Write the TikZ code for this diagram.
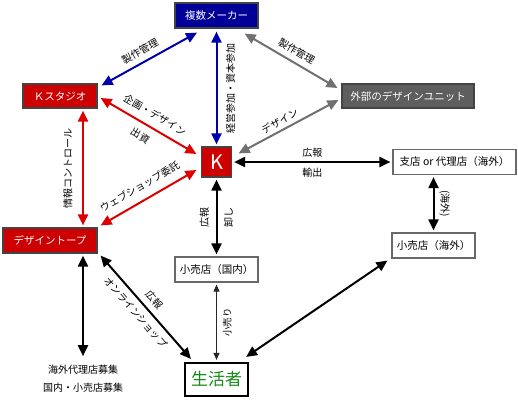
\documentclass[tikz,border=0pt]{standalone}
\usepackage{fontspec}
\setmainfont{Noto Sans CJK JP}
\usepackage{tikz}
\usetikzlibrary{arrows.meta}
\definecolor{navy}{HTML}{000099}
\definecolor{crimson}{HTML}{CC0000}
\definecolor{arrowred}{HTML}{DD0000}
\definecolor{arrowblue}{HTML}{0000AA}
\definecolor{unitgray}{HTML}{5E5E5E}
\definecolor{arrowgray}{HTML}{707070}
\definecolor{edgegray}{HTML}{444444}
\definecolor{leafgreen}{HTML}{168A16}
\tikzset{
  box/.style={
    rectangle, inner sep=0pt,
    minimum height=25pt,
    text centered, draw=edgegray, line width=1.2pt,
    font=\fontsize{10.5pt}{12pt}\selectfont,
  },
  makerbox/.style={box, fill=navy, text=white},
  redbox/.style={box, fill=crimson, text=white},
  unitbox/.style={box, fill=unitgray, text=white},
  shopbox/.style={box, fill=white, draw=edgegray!80},
  consumerbox/.style={
    box, draw=black, line width=2.2pt, fill=white,
    text=leafgreen, font=\fontsize{17pt}{18pt}\selectfont,
  },
  lbl/.style={inner sep=0.5pt, text=black, font=\fontsize{10pt}{11pt}\selectfont},
  bluearrow/.style={<->, >={Triangle[length=11pt,width=10pt]}, line width=2pt, color=arrowblue},
  redarrow/.style={<->, >={Triangle[length=11pt,width=10pt]}, line width=2pt, color=arrowred},
  grayarrow/.style={<->, >={Triangle[length=11pt,width=10pt]}, line width=2pt, color=arrowgray},
  blackarrow/.style={<->, >={Triangle[length=11pt,width=10pt]}, line width=2pt, color=black},
  thinarrow/.style={<->, >={Triangle[length=7pt,width=6pt]}, line width=1pt, color=black!85},
}

\begin{document}
\begin{tikzpicture}[x=1pt, y=-1pt]
  \useasboundingbox (0,0) rectangle (518,410);

  \node[makerbox, minimum width=83pt] (maker) at (216.5,15.5) {複数メーカー};
  \node[redbox, minimum width=74pt, minimum height=24pt] (kstudio) at (60,96) {Ｋスタジオ};
  \node[unitbox, minimum width=132pt, minimum height=24pt] (extunit) at (408,96) {外部のデザインユニット};
  \node[redbox, minimum width=30pt, minimum height=30pt, font=\fontsize{20pt}{22pt}\selectfont] (kcore) at (216.5,162) {K};
  \node[shopbox, minimum width=123pt] (branch) at (454.5,162) {支店 or 代理店（海外）};
  \node[shopbox, minimum width=83pt] (retailov) at (433.5,245.5) {小売店（海外）};
  \node[redbox, minimum width=94pt] (topu) at (50,240.5) {デザイントープ};
  \node[shopbox, minimum width=83pt] (retaildom) at (216.5,269.5) {小売店（国内）};
  \node[consumerbox, minimum width=63pt, minimum height=33pt] (consumer) at (216.5,379.5) {生活者};
  \node[align=center, inner sep=2pt, font=\fontsize{10pt}{18pt}\selectfont] (recruit) at (83,379) {海外代理店募集\\国内・小売店募集};

  \draw[bluearrow] ([xshift=-19.5pt,yshift=-4pt]maker.south) -- node[lbl, sloped, above=5pt, pos=0.54]{製作管理} ([xshift=4pt,yshift=-2pt]kstudio.north east);
  \draw[bluearrow] ([yshift=2pt]kcore.north) -- node[lbl, sloped, below=8pt]{経営参加・資本参加} ([yshift=-3pt]maker.south);
  \draw[grayarrow] ([xshift=-14pt,yshift=-5pt]maker.south east) -- node[lbl, sloped, above=5pt]{製作管理} ([xshift=-4pt,yshift=8pt]extunit.west);
  \draw[grayarrow] ([xshift=6.5pt,yshift=-7pt]kcore.north east) -- node[lbl, sloped, above=3pt, pos=0.455]{デザイン} ([xshift=-3pt,yshift=-4pt]extunit.west);
  \draw[redarrow] ([xshift=3pt,yshift=-2pt]kstudio.east) -- node[lbl, sloped, above=6.5pt]{企画・デザイン} node[lbl, sloped, below=6.5pt, pos=0.48]{出資} ([xshift=-4.5pt,yshift=8pt]kcore.west);
  \draw[redarrow] ([xshift=33pt,yshift=2pt]topu.north) -- node[lbl, sloped, above=9pt]{情報コントロール} ([xshift=23pt,yshift=-2pt]kstudio.south);
  \draw[redarrow] ([xshift=3pt,yshift=2pt]topu.north east) -- node[lbl, sloped, above=7.5pt, pos=0.48]{ウェブショップ委託} ([xshift=-4.5pt,yshift=-8pt]kcore.west);
  \draw[blackarrow] ([xshift=2pt]kcore.east) -- node[lbl, above=3.5pt]{広報} node[lbl, below=4.5pt]{輸出} ([xshift=-2pt]branch.west);
  \draw[blackarrow] ([xshift=-21pt,yshift=-2pt]branch.south) -- node[lbl, sloped, above=4.5pt]{(海外)} ([yshift=2pt]retailov.north);
  \draw[blackarrow] ([yshift=2pt]retaildom.north) -- node[lbl, sloped, above=6pt]{広報} node[lbl, sloped, below=6pt]{卸し} ([yshift=-2pt]kcore.south);
  \draw[thinarrow] ([yshift=2pt]consumer.north) -- node[lbl, sloped, below=5.5pt, font=\fontsize{9.5pt}{10pt}\selectfont]{小売り} ([yshift=-2pt]retaildom.south);
  \draw[blackarrow] ([xshift=3pt,yshift=-2pt]topu.south east) -- node[lbl, sloped, above=5pt]{広報} node[lbl, sloped, below=5pt, pos=0.48]{オンラインショップ} ([xshift=7pt,yshift=3pt]consumer.north west);
  \draw[blackarrow] ([xshift=-3pt,yshift=5pt]consumer.north east) -- ([xshift=-4pt,yshift=-2pt]retailov.south west);
  \draw[blackarrow] ([xshift=33pt,yshift=-2pt]topu.south) -- ([yshift=7pt]recruit.north);

\end{tikzpicture}
\end{document}
